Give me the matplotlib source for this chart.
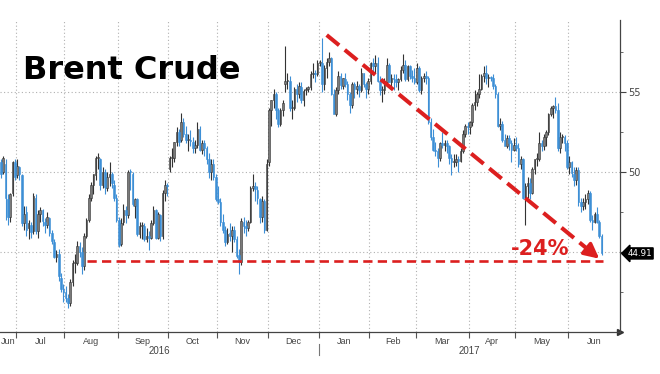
import matplotlib
matplotlib.use("Agg")
import matplotlib.pyplot as plt
import matplotlib.transforms as mtransforms
import numpy as np
import pandas as pd

# ---- data: daily (open, high, low, close) per month ----
jun16 = [(50.6, 50.8, 49.6, 49.9), (50.0, 51.0, 49.9, 50.9), (50.5, 50.8, 47.0, 48.4),
         (48.3, 48.6, 46.7, 47.2), (47.2, 48.7, 46.9, 48.6), (48.7, 50.7, 48.5, 50.6),
         (50.6, 50.8, 49.5, 49.7)]
jul16 = [(49.8, 50.8, 49.6, 50.35), (50.3, 50.4, 49.5, 49.9), (49.8, 49.9, 46.6, 46.8),
         (46.8, 47.9, 46.4, 47.4), (47.5, 47.9, 46.0, 46.4), (46.5, 47.0, 45.8, 46.8),
         (46.7, 46.9, 45.9, 46.25), (46.3, 48.7, 46.1, 48.5), (48.4, 48.6, 46.1, 46.3),
         (46.3, 47.6, 45.9, 47.4), (47.4, 47.8, 46.9, 47.6), (47.6, 47.7, 46.6, 46.95),
         (46.9, 47.1, 46.2, 46.7), (46.7, 47.5, 46.5, 47.2), (47.1, 47.2, 46.0, 46.2),
         (46.2, 46.4, 45.5, 45.7), (45.6, 45.8, 44.6, 44.7), (44.7, 45.1, 44.4, 44.9),
         (44.9, 45.2, 43.2, 43.5), (43.4, 43.7, 42.5, 42.7), (42.7, 43.0, 41.9, 42.5)]
aug16 = [(42.5, 42.9, 41.9, 42.1), (42.1, 42.4, 41.5, 41.8), (41.8, 43.3, 41.6, 43.1),
         (43.1, 44.5, 42.9, 44.3), (44.3, 44.9, 43.7, 44.3), (44.3, 45.7, 44.2, 45.4),
         (45.4, 45.6, 44.7, 45.0), (45.0, 45.3, 43.6, 44.1), (44.1, 46.2, 43.9, 46.0),
         (46.0, 47.1, 45.9, 47.0), (47.0, 48.6, 46.9, 48.4), (48.4, 49.4, 48.2, 49.2),
         (49.2, 49.9, 48.6, 49.85), (49.8, 51.0, 49.5, 50.9), (50.9, 51.2, 50.2, 50.9),
         (50.8, 50.9, 48.9, 49.2), (49.2, 50.3, 49.0, 50.0), (50.0, 50.2, 48.6, 49.05),
         (49.0, 50.0, 48.8, 49.7), (49.7, 50.6, 49.1, 49.9), (49.9, 50.0, 49.0, 49.3),
         (49.2, 49.5, 48.2, 48.4), (48.4, 48.6, 46.9, 47.0)]
sep16 = [(47.0, 47.2, 45.3, 45.45), (45.5, 47.1, 45.4, 46.8), (46.9, 48.0, 46.7, 47.6),
         (47.6, 47.9, 46.8, 47.3), (47.3, 50.1, 47.1, 49.98), (50.0, 50.2, 48.9, 49.99),
         (49.9, 50.0, 47.9, 48.0), (47.9, 48.4, 47.1, 48.3), (48.3, 48.4, 46.0, 46.1),
         (46.1, 46.9, 45.9, 46.6), (46.6, 46.9, 45.8, 46.6), (46.6, 46.8, 45.7, 45.8),
         (45.8, 46.5, 45.6, 46.0), (46.0, 46.3, 45.1, 45.9), (45.9, 47.0, 45.8, 46.8),
         (46.8, 47.9, 46.7, 47.65), (47.6, 47.7, 45.8, 45.9), (45.9, 47.5, 45.8, 47.35),
         (47.3, 47.4, 45.7, 46.0), (46.0, 48.9, 45.8, 48.7), (48.7, 49.5, 48.2, 49.2),
         (49.2, 49.3, 48.5, 49.1)]
oct16 = [(50.2, 51.0, 50.0, 50.9), (50.9, 51.5, 50.3, 50.9), (50.9, 51.9, 50.6, 51.9),
         (51.9, 52.8, 51.6, 52.5), (52.5, 52.7, 51.6, 51.9), (52.0, 53.7, 51.9, 53.1),
         (53.1, 53.4, 52.2, 52.4), (52.4, 52.9, 51.8, 52.0), (52.0, 52.4, 51.3, 52.0),
         (52.0, 52.6, 51.6, 51.95), (51.9, 52.2, 51.2, 51.5), (51.5, 52.0, 51.2, 51.7),
         (51.7, 53.1, 51.5, 52.7), (52.7, 52.9, 51.3, 51.4), (51.4, 52.0, 51.1, 51.8),
         (51.8, 52.0, 51.0, 51.5), (51.5, 51.6, 50.5, 50.8), (50.8, 51.2, 49.6, 50.0),
         (50.0, 50.8, 49.5, 50.5), (50.5, 50.8, 49.5, 49.7), (49.7, 49.9, 48.2, 48.3)]
nov16 = [(48.3, 49.1, 48.0, 48.1), (48.1, 48.4, 46.6, 46.9), (46.9, 47.4, 46.2, 46.35),
         (46.4, 46.6, 45.4, 45.6), (45.6, 46.5, 45.5, 46.15), (46.2, 46.8, 45.7, 46.0),
         (46.0, 46.6, 45.0, 46.4), (46.4, 46.6, 45.6, 45.8), (45.8, 46.0, 44.6, 44.75),
         (44.8, 45.2, 43.6, 44.4), (44.4, 47.1, 44.2, 46.95), (46.9, 47.2, 46.2, 46.6),
         (46.6, 47.0, 46.0, 46.5), (46.5, 47.0, 46.3, 46.9), (46.9, 49.1, 46.8, 49.0),
         (49.0, 49.9, 48.8, 49.1), (49.1, 49.4, 48.2, 48.95), (48.9, 49.1, 48.0, 48.4),
         (48.3, 48.4, 46.8, 47.2), (47.2, 48.5, 46.9, 48.2), (48.2, 48.3, 46.2, 46.4),
         (46.4, 50.8, 46.3, 50.5)]
dec16 = [(50.6, 54.0, 50.4, 53.9), (53.9, 54.5, 52.9, 54.5), (54.5, 55.2, 54.0, 54.9),
         (54.9, 55.0, 53.3, 53.9), (53.9, 54.0, 52.8, 53.0), (53.0, 54.0, 52.9, 53.9),
         (53.9, 54.5, 53.5, 54.3), (55.5, 57.9, 55.0, 55.7), (55.7, 56.2, 55.2, 55.7),
         (55.7, 56.0, 53.8, 54.0), (54.0, 54.5, 53.3, 54.0), (54.0, 55.3, 53.9, 55.2),
         (55.2, 55.5, 54.4, 54.9), (54.9, 55.6, 54.6, 55.35), (55.3, 55.6, 54.3, 54.5),
         (54.5, 55.2, 54.1, 55.05), (55.1, 55.3, 54.8, 55.2), (55.2, 55.4, 55.0, 55.3),
         (55.3, 56.3, 55.1, 56.1), (56.1, 56.8, 55.9, 56.2), (56.2, 56.4, 55.6, 56.1),
         (56.1, 57.0, 56.0, 56.8)]
jan17 = [(56.8, 57.0, 56.6, 56.8), (56.8, 58.4, 55.0, 55.5), (55.5, 56.7, 55.1, 56.5),
         (56.5, 57.1, 55.9, 56.9), (56.9, 57.5, 56.6, 57.1), (57.1, 57.2, 54.8, 54.9),
         (54.9, 55.2, 53.6, 53.65), (53.6, 55.3, 53.5, 55.1), (55.1, 56.3, 54.9, 56.0),
         (56.0, 56.2, 55.2, 55.45), (55.4, 55.9, 55.2, 55.85), (55.8, 56.2, 55.3, 55.5),
         (55.5, 55.7, 54.5, 54.9), (54.9, 55.0, 53.7, 54.2), (54.2, 55.6, 54.0, 55.5),
         (55.5, 55.6, 54.6, 55.2), (55.2, 55.7, 54.9, 55.4), (55.4, 55.5, 54.7, 55.1),
         (55.1, 56.5, 55.0, 56.2), (56.2, 56.2, 55.3, 55.5), (55.5, 55.6, 54.6, 55.2),
         (55.2, 55.9, 54.9, 55.7)]
feb17 = [(55.7, 56.9, 55.5, 56.8), (56.8, 57.1, 56.1, 56.6), (56.6, 57.3, 56.2, 56.8),
         (56.8, 57.2, 55.6, 55.7), (55.7, 56.0, 54.8, 55.1), (55.1, 55.4, 54.4, 55.15),
         (55.1, 55.9, 54.9, 55.6), (55.6, 57.1, 55.4, 56.7), (56.7, 56.8, 55.6, 55.65),
         (55.6, 56.1, 55.2, 55.9), (55.9, 56.1, 55.1, 55.8), (55.8, 56.1, 55.3, 55.6),
         (55.6, 55.9, 55.1, 55.8), (55.8, 56.6, 55.7, 56.4), (56.4, 57.4, 56.2, 56.7),
         (56.7, 57.0, 55.7, 55.8), (55.8, 56.7, 55.7, 56.6), (56.6, 56.7, 55.8, 56.0),
         (56.0, 56.4, 55.6, 55.9), (55.9, 56.5, 55.5, 55.6)]
mar17 = [(55.6, 56.8, 55.5, 56.5), (56.5, 56.6, 55.0, 55.1), (55.1, 56.0, 54.9, 55.9),
         (55.9, 56.2, 55.6, 56.0), (56.0, 56.3, 55.5, 55.9), (55.9, 56.0, 53.0, 53.1),
         (53.1, 53.4, 52.0, 52.2), (52.2, 52.7, 51.3, 51.4), (51.4, 51.9, 51.0, 51.3),
         (51.3, 51.5, 50.3, 50.9), (50.9, 51.9, 50.7, 51.8), (51.8, 52.5, 51.5, 51.7),
         (51.7, 52.0, 51.3, 51.8), (51.8, 52.0, 51.2, 51.6), (51.6, 51.7, 50.5, 50.9),
         (50.9, 51.1, 49.8, 50.6), (50.6, 51.1, 50.3, 50.65), (50.6, 51.1, 50.4, 50.8),
         (50.8, 51.0, 50.0, 50.7), (50.7, 51.5, 50.6, 51.3), (51.3, 52.6, 51.2, 52.4),
         (52.4, 53.0, 52.2, 52.9), (52.9, 53.1, 52.4, 52.8)]
apr17 = [(52.8, 53.2, 52.4, 53.1), (53.1, 54.3, 52.9, 54.2), (54.2, 55.1, 53.9, 54.4),
         (54.4, 55.0, 54.1, 54.9), (54.9, 56.1, 54.6, 55.2), (55.2, 56.1, 55.1, 56.0),
         (56.0, 56.6, 55.6, 56.2), (56.2, 56.7, 55.5, 55.9), (55.9, 56.1, 55.3, 55.95),
         (55.9, 56.0, 55.7, 55.85), (55.9, 56.1, 55.2, 55.4), (55.4, 55.5, 54.6, 54.9),
         (54.9, 55.0, 52.8, 52.9), (52.9, 53.4, 52.6, 53.0), (53.0, 53.2, 51.9, 52.0),
         (52.0, 52.4, 51.6, 51.6), (51.6, 52.3, 51.5, 52.1), (52.1, 52.3, 51.4, 51.8),
         (51.8, 52.0, 50.6, 51.4), (51.4, 52.1, 51.3, 51.7)]
may17 = [(51.7, 52.2, 51.3, 51.5), (51.5, 51.8, 50.3, 50.5), (50.5, 51.0, 50.2, 50.8),
         (50.8, 50.9, 48.3, 48.4), (48.4, 49.3, 46.7, 49.1), (49.1, 49.7, 48.4, 49.3),
         (49.3, 49.6, 48.3, 48.7), (48.7, 50.3, 48.6, 50.2), (50.2, 50.8, 49.9, 50.8),
         (50.8, 51.2, 50.4, 50.85), (50.8, 52.5, 50.7, 51.8), (51.8, 52.0, 51.3, 51.65),
         (51.6, 52.4, 51.4, 52.2), (52.2, 52.6, 51.6, 52.5), (52.5, 53.7, 52.3, 53.6),
         (53.6, 54.1, 53.5, 54.0), (54.0, 54.2, 53.4, 54.15), (54.1, 54.7, 53.7, 53.9),
         (53.9, 54.3, 51.3, 51.5), (51.5, 52.5, 51.2, 52.2), (52.2, 52.4, 51.8, 52.25),
         (52.2, 52.3, 51.3, 51.8), (51.8, 52.0, 50.2, 50.3)]
jun17 = [(50.3, 51.0, 49.9, 50.6), (50.6, 50.7, 49.7, 49.95), (49.9, 50.3, 49.1, 49.5),
         (49.5, 50.3, 49.2, 50.1), (50.1, 50.3, 47.9, 48.1), (48.1, 48.4, 47.5, 47.9),
         (47.9, 48.4, 47.6, 48.15), (48.1, 48.6, 47.7, 48.3), (48.3, 48.9, 48.0, 48.7),
         (48.7, 48.8, 46.9, 47.0), (47.0, 47.3, 46.4, 46.9), (46.9, 47.5, 46.8, 47.4),
         (47.4, 47.8, 46.8, 46.9), (46.9, 47.0, 45.9, 46.0), (46.0, 46.1, 44.8, 44.91)]

first_day = "2016-06-22"
last_day = "2017-06-21"
last_price = 44.91
support_level = 44.45
change_label = "-24%"
title = "Brent Crude"

# ---- build ----
rows = np.array(jun16 + jul16 + aug16 + sep16 + oct16 + nov16 + dec16 +
                jan17 + feb17 + mar17 + apr17 + may17 + jun17)
dates = pd.bdate_range(first_day, last_day)
n = min(len(dates), len(rows))
dates = dates[:n]
o, h, l, c = rows[:n, 0], rows[:n, 1], rows[:n, 2], rows[:n, 3]
x = np.arange(n)

UP = "#7a7a7a"
UP_EDGE = "#333333"
DOWN = "#3d8fd6"
RED = "#dc1f1f"

fig = plt.figure(figsize=(6.6, 3.74), dpi=100)
fig.patch.set_facecolor("white")
ax = fig.add_axes([0, 42 / 374, 620 / 660, 312 / 374])

xl, xr = -0.42, 267.97
ax.set_xlim(xl, xr)
ax.set_ylim(40, 59.5)

# month boundaries
starts = [i for i in range(1, n) if dates[i].month != dates[i - 1].month]
bounds = [s - 0.5 for s in starts]
ax.set_xticks(bounds)
ax.set_xticklabels([])
ax.tick_params(axis="x", direction="out", length=4, width=0.8, color="#555555")

# grid
for b in bounds:
    ax.axvline(b, color="#b0b0b0", lw=0.8, ls=(0, (1, 2.2)), zorder=0)
for yv in (45, 50, 55):
    ax.axhline(yv, color="#b0b0b0", lw=0.8, ls=(0, (1, 2.2)), zorder=0)

# candles
up = c >= o
wick_col = np.where(up, UP_EDGE, DOWN)
ax.vlines(x, l, h, colors=wick_col, lw=0.8, zorder=2)
body_bottom = np.minimum(o, c)
body_h = np.maximum(np.abs(c - o), 0.06)
ax.bar(x[up], body_h[up], bottom=body_bottom[up], width=0.7,
       color=UP, edgecolor=UP_EDGE, lw=0.4, zorder=3)
ax.bar(x[~up], body_h[~up], bottom=body_bottom[~up], width=0.7,
       color=DOWN, edgecolor=DOWN, lw=0.4, zorder=3)

# spines / y axis
for s in ("top", "left"):
    ax.spines[s].set_visible(False)
ax.spines["right"].set_color("#444444")
ax.spines["bottom"].set_color("#444444")
ax.spines["right"].set_linewidth(0.9)
ax.spines["bottom"].set_linewidth(0.9)
ax.yaxis.tick_right()
ax.set_yticks([45, 50, 55])
ax.set_yticklabels(["", "50", "55"])
ax.set_yticks([42.5, 47.5, 52.5, 57.5], minor=True)
ax.tick_params(axis="y", which="major", direction="out", length=4, width=0.8,
               color="#444444", labelsize=7, labelcolor="#444444", pad=2)
ax.tick_params(axis="y", which="minor", direction="out", length=2, width=0.7,
               color="#666666")
ax.plot([1.0], [0], marker=">", ms=4, color="#333333", transform=ax.transAxes,
        clip_on=False)

# month / year labels
trans = mtransforms.blended_transform_factory(ax.transData, ax.transAxes)
edges = [xl] + bounds + [xr]
month_starts = [0] + starts
for k, i0 in enumerate(month_starts):
    mid = (edges[k] + edges[k + 1]) / 2
    ax.text(mid, -0.03, dates[i0].strftime("%b"), transform=trans, ha="center",
            va="center", fontsize=6.5, color="#444444", family="Liberation Sans")
year_b = [b for b, s in zip(bounds, starts) if dates[s].month == 1][0]
ax.text((xl + year_b) / 2, -0.062, str(dates[0].year), transform=trans, ha="center",
        va="center", fontsize=7, color="#444444", family="Liberation Sans")
ax.text((year_b + xr) / 2, -0.062, str(dates[-1].year), transform=trans, ha="center",
        va="center", fontsize=7, color="#444444", family="Liberation Sans")
ax.plot([year_b, year_b], [-0.04, -0.075], transform=trans, color="#777777",
        lw=0.8, clip_on=False)

# annotations
ax.plot([37.2, 260.6], [support_level, support_level], color=RED, lw=1.9,
        ls=(0, (3.5, 2)), zorder=4)
x0, y0, x1, y1 = 141.0, 58.56, 259.0, 44.58
ax.plot([x0, x1 - 3.2], [y0, y1 + 0.38], color=RED, lw=2.9, ls=(0, (4, 1.8)),
        zorder=4, solid_capstyle="butt", dash_capstyle="butt")
ax.annotate("", xy=(x1, y1), xytext=(x1 - 4.5, y1 + 0.53),
            arrowprops=dict(arrowstyle="-|>,head_length=0.9,head_width=0.45",
                            color=RED, lw=2.5, shrinkA=0, shrinkB=0), zorder=5)
ax.text(233.5, 45.2, change_label, color=RED, fontsize=15, fontweight="bold",
        ha="center", va="center", zorder=6)

ytrans = ax.get_yaxis_transform()
ax.text(1.012, last_price, f"{last_price:.2f}", transform=ytrans, color="white",
        fontsize=6.3, ha="left", va="center", zorder=10, clip_on=False,
        bbox=dict(boxstyle="larrow,pad=0.12", fc="black", ec="black"))

fig.text(23 / 660, (374 - 79) / 374, title, fontsize=23, fontweight="bold",
         color="black", ha="left", va="baseline", family="DejaVu Sans")

fig.savefig("out.png", dpi=100, facecolor="white")
